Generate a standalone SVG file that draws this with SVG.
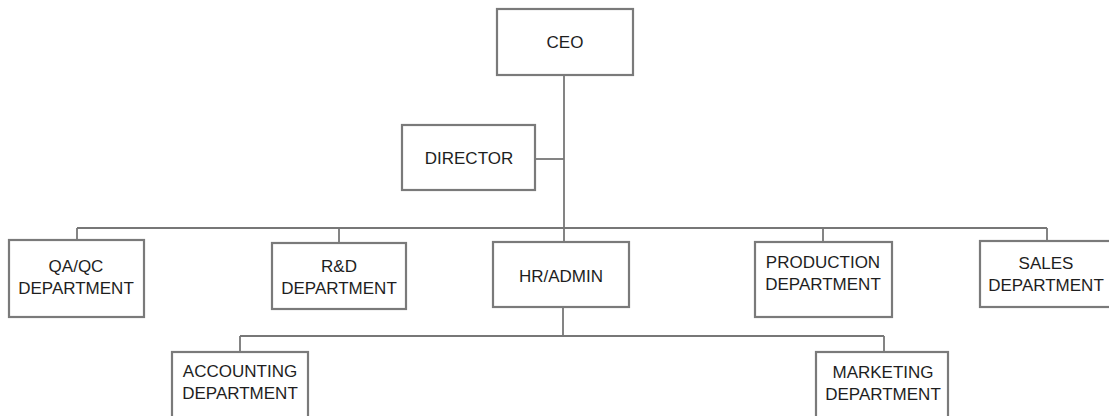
<svg xmlns="http://www.w3.org/2000/svg" width="1109" height="416" viewBox="0 0 1109 416">
<style>
.box{fill:#fff;stroke:#7a7a7a;stroke-width:2.2}
.t{font-family:"Liberation Sans",Arial,sans-serif;font-size:17px;fill:#1e1e1e;text-anchor:middle}
.c{fill:none;stroke:#777;stroke-width:1.8}
</style>
<rect width="1109" height="416" fill="#fff"/>
<g id="connectors">
<path class="c" d="M564 75V228"/>
<path class="c" d="M535 159H564"/>
<path class="c" d="M77 228H1047"/>
<path class="c" d="M77 228V240"/>
<path class="c" d="M339 228V243"/>
<path class="c" d="M564 228V242"/>
<path class="c" d="M823 228V242"/>
<path class="c" d="M1047 228V241"/>
<path class="c" d="M563 307V336"/>
<path class="c" d="M240 336H884"/>
<path class="c" d="M240 336V352"/>
<path class="c" d="M884 336V352"/>
</g>
<g id="ceo"><rect class="box" x="497" y="9" width="136" height="66"/><text class="t" x="565" y="48">CEO</text></g>
<g id="director"><rect class="box" x="402" y="125" width="133" height="65"/><text class="t" x="469" y="164">DIRECTOR</text></g>
<g id="qaqc"><rect class="box" x="9" y="240" width="135" height="77"/><text class="t" x="76" y="272">QA/QC</text><text class="t" x="76" y="294">DEPARTMENT</text></g>
<g id="rnd"><rect class="box" x="272" y="243" width="134" height="66"/><text class="t" x="339" y="272">R&amp;D</text><text class="t" x="339" y="294">DEPARTMENT</text></g>
<g id="hradmin"><rect class="box" x="493" y="242" width="136" height="65"/><text class="t" x="561" y="282">HR/ADMIN</text></g>
<g id="production"><rect class="box" x="755" y="242" width="137" height="75"/><text class="t" x="823" y="268">PRODUCTION</text><text class="t" x="823" y="290">DEPARTMENT</text></g>
<g id="sales"><rect class="box" x="980" y="241" width="132" height="66"/><text class="t" x="1046" y="269">SALES</text><text class="t" x="1046" y="291">DEPARTMENT</text></g>
<g id="accounting"><rect class="box" x="172" y="352" width="136" height="70"/><text class="t" x="240" y="377">ACCOUNTING</text><text class="t" x="240" y="399">DEPARTMENT</text></g>
<g id="marketing"><rect class="box" x="816" y="352" width="132" height="70"/><text class="t" x="883" y="378">MARKETING</text><text class="t" x="883" y="400">DEPARTMENT</text></g>
</svg>
